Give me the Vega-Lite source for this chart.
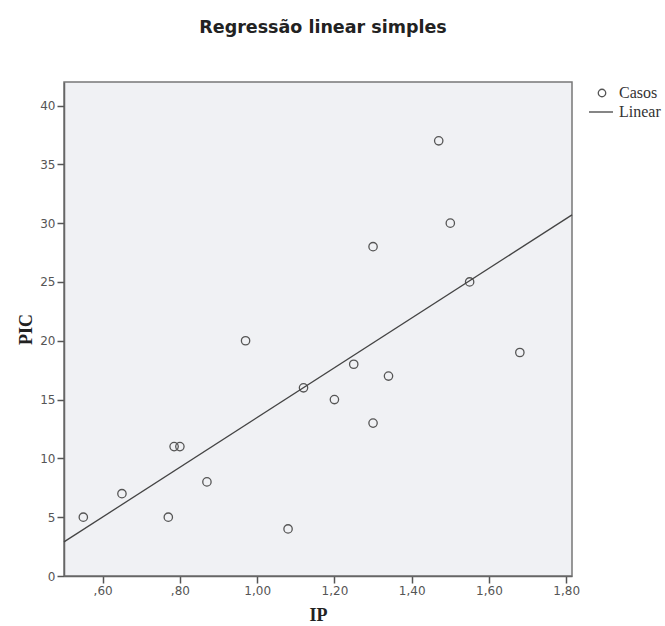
{
  "$schema": "https://vega.github.io/schema/vega-lite/v6.json",
  "width": 508,
  "height": 494,
  "autosize": {"type": "none"},
  "padding": {"left": 64, "top": 82, "right": 93, "bottom": 50},
  "background": "white",
  "title": {
    "text": "Regressão linear simples",
    "font": "DejaVu Sans",
    "fontSize": 17.5,
    "fontWeight": "bold",
    "color": "#222",
    "anchor": "middle",
    "frame": "group",
    "offset": 46,
    "dx": 5
  },
  "config": {
    "view": {"fill": "#f0f1f4", "stroke": "#777", "strokeWidth": 1.5},
    "axis": {
      "grid": false,
      "labelFont": "DejaVu Sans",
      "labelFontSize": 12,
      "labelColor": "#555",
      "labelPadding": 2,
      "tickColor": "#555",
      "tickSize": 7,
      "tickWidth": 1.5,
      "domainColor": "#666",
      "domainWidth": 1.5,
      "titleFont": "Liberation Serif",
      "titleFontSize": 18,
      "titleFontWeight": "bold",
      "titleColor": "#222"
    },
    "legend": {
      "title": null,
      "labelFont": "Liberation Serif",
      "labelFontSize": 16,
      "labelColor": "#333",
      "padding": 0
    }
  },
  "resolve": {"legend": {"shape": "independent", "color": "independent"}},
  "layer": [
    {
      "data": {
        "values": [
          {"IP": 0.55, "PIC": 5, "serie": "Casos"},
          {"IP": 0.65, "PIC": 7, "serie": "Casos"},
          {"IP": 0.77, "PIC": 5, "serie": "Casos"},
          {"IP": 0.785, "PIC": 11, "serie": "Casos"},
          {"IP": 0.80, "PIC": 11, "serie": "Casos"},
          {"IP": 0.87, "PIC": 8, "serie": "Casos"},
          {"IP": 0.97, "PIC": 20, "serie": "Casos"},
          {"IP": 1.08, "PIC": 4, "serie": "Casos"},
          {"IP": 1.12, "PIC": 16, "serie": "Casos"},
          {"IP": 1.20, "PIC": 15, "serie": "Casos"},
          {"IP": 1.25, "PIC": 18, "serie": "Casos"},
          {"IP": 1.30, "PIC": 28, "serie": "Casos"},
          {"IP": 1.30, "PIC": 13, "serie": "Casos"},
          {"IP": 1.34, "PIC": 17, "serie": "Casos"},
          {"IP": 1.47, "PIC": 37, "serie": "Casos"},
          {"IP": 1.50, "PIC": 30, "serie": "Casos"},
          {"IP": 1.55, "PIC": 25, "serie": "Casos"},
          {"IP": 1.68, "PIC": 19, "serie": "Casos"}
        ]
      },
      "mark": {"type": "point", "filled": false, "size": 70, "strokeWidth": 1.3, "color": "#555", "opacity": 1},
      "encoding": {
        "x": {
          "field": "IP",
          "type": "quantitative",
          "title": "IP",
          "scale": {"domain": [0.5, 1.815], "nice": false, "zero": false},
          "axis": {
            "values": [0.6, 0.8, 1.0, 1.2, 1.4, 1.6, 1.8],
            "labelExpr": "replace(replace(format(datum.value, '.2f'), '0.', ','), '.', ',')",
            "titlePadding": 10
          }
        },
        "y": {
          "field": "PIC",
          "type": "quantitative",
          "title": "PIC",
          "scale": {"domain": [0, 42], "nice": false},
          "axis": {
            "values": [0, 5, 10, 15, 20, 25, 30, 35, 40],
            "titlePadding": 4
          }
        },
        "shape": {
          "field": "serie",
          "type": "nominal",
          "scale": {"domain": ["Casos"], "range": ["circle"]},
          "legend": {
            "orient": "none",
            "legendX": 530,
            "legendY": 3,
            "symbolSize": 56,
            "symbolStrokeColor": "#555",
            "symbolFillColor": "transparent",
            "symbolStrokeWidth": 1.3,
            "labelOffset": 9
          }
        }
      }
    },
    {
      "data": {
        "values": [
          {"IP": 0.5, "PIC": 2.9, "serie": "Linear"},
          {"IP": 1.815, "PIC": 30.7, "serie": "Linear"}
        ]
      },
      "mark": {"type": "line", "strokeWidth": 1.3},
      "encoding": {
        "x": {"field": "IP", "type": "quantitative"},
        "y": {"field": "PIC", "type": "quantitative"},
        "color": {
          "field": "serie",
          "type": "nominal",
          "scale": {"domain": ["Linear"], "range": ["#444"]},
          "legend": {
            "orient": "none",
            "legendX": 524,
            "legendY": 17,
            "symbolType": "stroke",
            "symbolSize": 576,
            "symbolStrokeWidth": 1.3,
            "labelOffset": 5
          }
        }
      }
    }
  ]
}
